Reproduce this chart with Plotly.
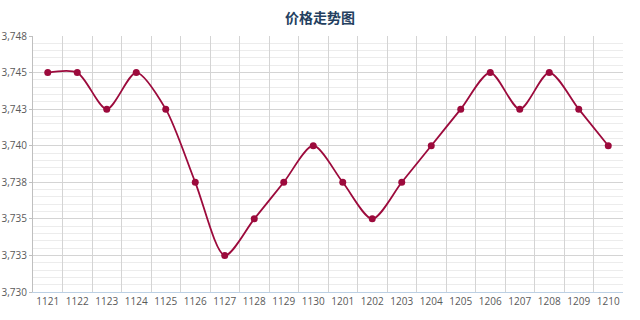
import plotly.graph_objects as go

categories = ["1121", "1122", "1123", "1124", "1125", "1126", "1127", "1128", "1129", "1130",
              "1201", "1202", "1203", "1204", "1205", "1206", "1207", "1208", "1209", "1210"]
prices = [3745, 3745, 3742.5, 3745, 3742.5, 3737.5, 3732.5, 3735, 3737.5, 3740,
          3737.5, 3735, 3737.5, 3740, 3742.5, 3745, 3742.5, 3745, 3742.5, 3740]
y_ticks = [3730, 3732.5, 3735, 3737.5, 3740, 3742.5, 3745, 3747.5]
y_ticktext = ["3,730", "3,733", "3,735", "3,738", "3,740", "3,743", "3,745", "3,748"]

color = "#9c0a3c"
fig = go.Figure(go.Scatter(
    x=categories, y=prices, mode="lines+markers",
    line=dict(color=color, width=1.8, shape="spline", smoothing=0.8),
    marker=dict(color=color, size=7),
    showlegend=False, hoverinfo="x+y"))

fig.update_layout(
    width=640, height=320,
    margin=dict(l=33, r=17, t=36, b=28, autoexpand=False),
    paper_bgcolor="white", plot_bgcolor="white",
    title=dict(text="<b>价格走势图</b>", x=0.5, xanchor="center", y=0.945, yanchor="middle",
               font=dict(family="Noto Sans CJK SC", size=14, color="#243f60")),
    font=dict(family="Open Sans", size=10, color="#595959"),
)
fig.update_xaxes(
    type="category", tickson="boundaries", showgrid=True, gridcolor="#d4d4d4", gridwidth=1,
    ticks="", showline=True, linecolor="#bcd0e4", linewidth=1, mirror=False,
    tickangle=0, automargin=False,
    tickfont=dict(size=10, color="#595959"), range=[-0.5, 19.5])
fig.update_yaxes(
    range=[3730, 3747.5], tickvals=y_ticks, ticktext=y_ticktext,
    showgrid=True, gridcolor="#d4d4d4", gridwidth=1, automargin=False,
    minor=dict(dtick=0.5, tick0=3730, showgrid=True, gridcolor="#ececec", gridwidth=1),
    showline=True, linecolor="#bfbfbf", linewidth=1, ticks="outside", ticklen=3,
    tickcolor="#bfbfbf", zeroline=False, tickfont=dict(size=10, color="#595959"))

fig.write_html("out.html")
